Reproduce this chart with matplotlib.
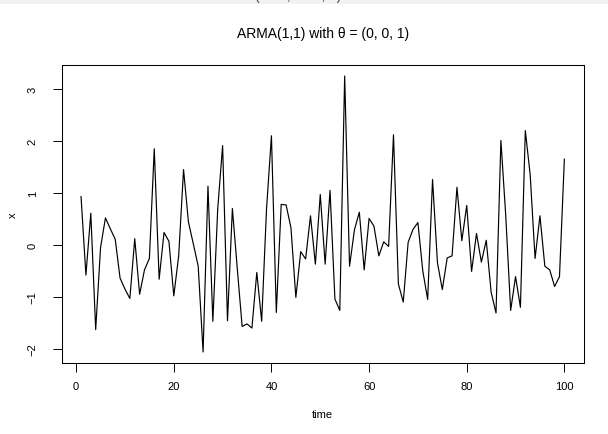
import numpy as np
import matplotlib.pyplot as plt
from matplotlib.patches import Rectangle

# ---- series ----
time = np.arange(1, 101)
x = [
    0.93, -0.58, 0.61, -1.63, -0.05, 0.52, 0.31, 0.11, -0.64, -0.85,
    -1.03, 0.12, -0.95, -0.48, -0.26, 1.85, -0.66, 0.24, 0.07, -0.98,
    -0.21, 1.45, 0.44, 0.02, -0.41, -2.06, 1.13, -1.47, 0.70, 1.91,
    -1.46, 0.70, -0.45, -1.57, -1.52, -1.60, -0.53, -1.47, 0.70, 2.10,
    -1.30, 0.78, 0.77, 0.33, -1.01, -0.13, -0.27, 0.56, -0.37, 0.97,
    -0.37, 1.05, -1.04, -1.26, 3.25, -0.41, 0.29, 0.63, -0.48, 0.51,
    0.36, -0.21, 0.06, -0.03, 2.12, -0.75, -1.10, 0.05, 0.30, 0.43,
    -0.50, -1.05, 1.26, -0.34, -0.86, -0.25, -0.21, 1.11, 0.08, 0.76,
    -0.51, 0.22, -0.33, 0.09, -0.91, -1.31, 2.01, 0.55, -1.26, -0.61,
    -1.20, 2.20, 1.35, -0.26, 0.56, -0.41, -0.48, -0.80, -0.61, 1.65,
]
xticks = [0, 20, 40, 60, 80, 100]
yticks = [-2, -1, 0, 1, 2, 3]
title = "ARMA(1,1) with θ = (0, 0, 1)"

plt.rcParams["font.family"] = ["Liberation Sans", "DejaVu Sans"]

W, H = 608, 435
fig = plt.figure(figsize=(W / 100, H / 100), dpi=100)
ax = fig.add_axes([61.7 / W, 1 - 364 / H, (583.7 - 61.7) / W, (364 - 66) / H])

ax.plot(time, x, color="black", linewidth=0.85)

# R style 4% padding on both axes
xr = time.max() - time.min()
yr = max(x) - min(x)
ax.set_xlim(time.min() - 0.04 * xr, time.max() + 0.04 * xr)
ax.set_ylim(min(x) - 0.04 * yr, max(x) + 0.04 * yr)

ax.set_xticks(xticks)
ax.set_yticks(yticks)
ax.set_yticklabels([str(v).replace("-", "−") for v in yticks], rotation=90, va="center")
ax.tick_params(axis="both", direction="out", length=6.3, width=0.7, labelsize=8)
ax.tick_params(axis="x", pad=6.5)
ax.tick_params(axis="y", pad=11)
for s in ax.spines.values():
    s.set_linewidth(0.75)

ax.set_xlabel("time", fontsize=8, labelpad=13)
ax.set_ylabel("x", fontsize=8, labelpad=7.2)
fig.text(323 / W, 1 - 34 / H, title, ha="center", va="center", fontsize=10)

# cropped strip of the previous figure at the very top
fig.patches.append(Rectangle((0, 1 - 4.5 / H), 1, 4.5 / H, transform=fig.transFigure,
                             facecolor="#f2f2f2", edgecolor="none", zorder=0))
fig.text(298 / W, 1 + 4 / H, "(0.25, 0.75, 1)", ha="center", va="center",
         fontsize=10, color="#444444")

fig.savefig("out.png", dpi=100)
